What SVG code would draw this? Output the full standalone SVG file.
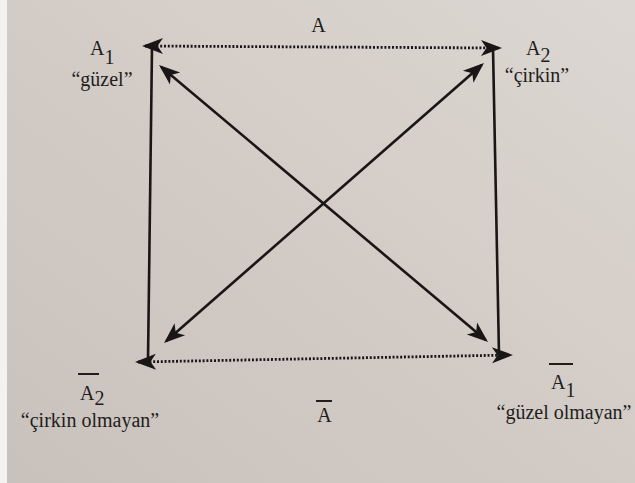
<svg xmlns="http://www.w3.org/2000/svg" width="635" height="483" viewBox="0 0 635 483">
  <defs>
    <linearGradient id="paper" x1="0" y1="1" x2="1" y2="0">
      <stop offset="0" stop-color="#c9c1bb"/>
      <stop offset="0.5" stop-color="#d3ccc6"/>
      <stop offset="1" stop-color="#dcd7d2"/>
    </linearGradient>
    <marker id="ah" viewBox="-22 -9 23 18" markerWidth="23" markerHeight="18" refX="-3" refY="0" orient="auto-start-reverse" markerUnits="userSpaceOnUse">
      <path d="M0,0 L-21,-8 L-15.5,0 L-21,8 Z" fill="#1a1616"/>
    </marker>
    <style>
      .lbl { font-family: "Liberation Serif", "DejaVu Serif", serif; font-size: 20px; fill: #221d1d; }
      .solid { stroke: #1a1616; stroke-width: 2.6; fill: none; }
      .dot { stroke: #1a1616; stroke-width: 2.8; fill: none; stroke-dasharray: 2 1.8; }
      .bar { stroke: #221d1d; stroke-width: 2; }
    </style>
  </defs>
  <rect x="0" y="0" width="635" height="483" fill="url(#paper)"/>
  <rect x="0" y="0" width="7" height="483" fill="#f3f2f0"/>

  <g id="connectors">
    <!-- top dotted: contrary A -->
    <line class="dot" x1="145" y1="46" x2="499" y2="48" marker-start="url(#ah)" marker-end="url(#ah)"/>
    <!-- bottom dotted: sub-contrary -->
    <line class="dot" x1="138" y1="362" x2="510" y2="355" marker-start="url(#ah)" marker-end="url(#ah)"/>
    <!-- verticals -->
    <line class="solid" x1="152" y1="47" x2="148" y2="361"/>
    <line class="solid" x1="493" y1="48" x2="499" y2="355"/>
    <!-- diagonals -->
    <line class="solid" x1="161.3" y1="66.9" x2="485.7" y2="340.1" marker-start="url(#ah)" marker-end="url(#ah)"/>
    <line class="solid" x1="166.3" y1="341" x2="481.7" y2="65" marker-start="url(#ah)" marker-end="url(#ah)"/>
    <text class="lbl" x="318.5" y="32" text-anchor="middle">A</text>
    <g id="label-notA">
      <line class="bar" x1="316" y1="401" x2="332" y2="401"/>
      <text class="lbl" x="324.5" y="422" text-anchor="middle">A</text>
    </g>
  </g>

  <g id="node-A1">
    <text class="lbl" x="90" y="55">A<tspan dy="9">1</tspan></text>
    <text class="lbl" x="102" y="86" text-anchor="middle">“güzel”</text>
  </g>
  <g id="node-A2">
    <text class="lbl" x="526" y="55">A<tspan dy="7">2</tspan></text>
    <text class="lbl" x="537" y="82" text-anchor="middle">“çirkin”</text>
  </g>
  <g id="node-notA2">
    <line class="bar" x1="78" y1="374" x2="99" y2="374"/>
    <text class="lbl" x="80" y="400">A<tspan dy="5">2</tspan></text>
    <text class="lbl" x="90" y="427" text-anchor="middle">“çirkin olmayan”</text>
  </g>
  <g id="node-notA1">
    <line class="bar" x1="549" y1="364" x2="573" y2="364"/>
    <text class="lbl" x="551" y="389">A<tspan dy="8">1</tspan></text>
    <text class="lbl" x="564" y="419" text-anchor="middle">“güzel olmayan”</text>
  </g>
</svg>
